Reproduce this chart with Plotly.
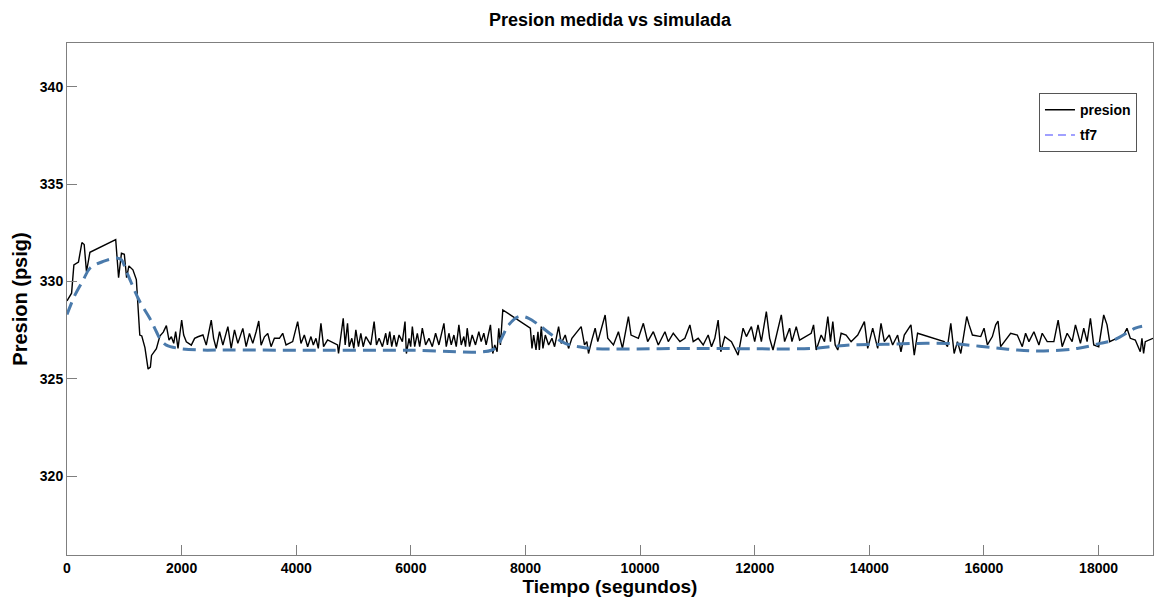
import plotly.graph_objects as go

# ---- data: measured pressure (presion) ----
t_presion = [0, 80, 120, 200, 260, 300, 340, 400, 850, 900, 950, 1000, 1040, 1080, 1150, 1210,
             1270, 1305, 1360, 1415, 1455, 1475, 1560, 1620, 1680, 1734, 1780, 1821, 1862, 1896,
             1937, 2001, 2036, 2082, 2169, 2227, 2285, 2372, 2430, 2517, 2558, 2604, 2662, 2720,
             2807, 2865, 2923, 2981, 3068, 3126, 3184, 3242, 3300, 3346, 3387, 3445, 3503, 3561,
             3619, 3706, 3764, 3822, 3938, 4025, 4083, 4141, 4199, 4257, 4298, 4344, 4385, 4431,
             4477, 4547, 4721, 4738, 4820, 4854, 4895, 4924, 4970, 5005, 5040, 5086, 5127, 5168,
             5214, 5301, 5359, 5400, 5446, 5504, 5562, 5591, 5632, 5666, 5707, 5748, 5794, 5852,
             5898, 5922, 5968, 5997, 6026, 6067, 6113, 6154, 6200, 6258, 6316, 6374, 6432, 6490,
             6577, 6618, 6664, 6705, 6751, 6792, 6838, 6879, 6925, 6954, 6983, 7024, 7070, 7128,
             7186, 7227, 7273, 7314, 7389, 7430, 7464, 7505, 7534, 7563, 7604, 8085, 8114, 8143,
             8184, 8218, 8242, 8276, 8305, 8346, 8404, 8462, 8508, 8578, 8624, 8694, 8752, 8810,
             8972, 9030, 9071, 9100, 9158, 9216, 9262, 9332, 9390, 9436, 9535, 9622, 9692, 9796,
             9842, 9970, 10057, 10132, 10231, 10318, 10434, 10492, 10579, 10695, 10782, 10869,
             10927, 11014, 11101, 11188, 11246, 11304, 11362, 11408, 11478, 11594, 11710, 11797,
             11855, 11942, 12000, 12058, 12116, 12203, 12261, 12319, 12377, 12464, 12522, 12609,
             12650, 12725, 12783, 12986, 13027, 13073, 13160, 13218, 13276, 13322, 13363, 13404,
             13450, 13508, 13595, 13682, 13798, 13914, 13972, 14059, 14146, 14204, 14262, 14349,
             14407, 14494, 14552, 14610, 14726, 14784, 14842, 15306, 15364, 15422, 15480, 15538,
             15596, 15700, 15741, 15799, 15944, 16002, 16060, 16147, 16205, 16246, 16292, 16466,
             16582, 16669, 16727, 16785, 16872, 16959, 17017, 17104, 17220, 17295, 17365, 17452,
             17539, 17597, 17684, 17742, 17800, 17858, 17916, 18003, 18090, 18148, 18194, 18438,
             18496, 18554, 18641, 18728, 18757, 18786, 18815, 18950]
p_presion = [329.0, 329.4, 330.85, 331.0, 332.0, 331.9, 330.5, 331.5, 332.15, 330.2, 331.45, 331.4,
             330.2, 330.8, 330.6, 330.1, 327.25, 327.2, 326.6, 325.5, 325.6, 326.2, 326.55, 327.2,
             327.4, 327.73, 326.99, 327.16, 326.82, 327.42, 326.56, 328.02, 327.25, 326.9, 326.73,
             327.08, 327.16, 327.25, 326.73, 328.02, 327.08, 326.56, 327.42, 326.73, 327.68, 326.56,
             327.51, 326.82, 327.59, 326.65, 327.33, 326.82, 327.42, 327.97, 326.73, 327.16, 327.33,
             326.65, 327.08, 327.08, 327.34, 326.74, 326.91, 327.94, 326.82, 327.25, 326.65, 327.17,
             326.74, 327.08, 326.56, 327.85, 326.65, 327.0, 326.74, 326.3, 328.11, 326.74, 327.85,
             326.65, 327.08, 326.56, 327.51, 326.65, 327.34, 326.65, 327.17, 326.74, 327.94, 326.74,
             327.08, 326.65, 327.34, 326.74, 327.42, 326.65, 327.25, 326.65, 327.25, 326.91, 327.94,
             326.3, 327.08, 326.65, 327.68, 326.65, 327.34, 326.65, 327.6, 326.74, 327.08, 326.65,
             327.34, 326.74, 327.85, 326.65, 327.34, 326.74, 327.25, 326.65, 327.77, 326.74, 327.17,
             326.65, 327.6, 326.65, 327.25, 326.74, 327.42, 326.91, 327.34, 326.74, 327.77, 326.3,
             326.74, 326.39, 327.6, 326.74, 328.54, 327.6, 326.56, 327.25, 326.48, 327.42, 326.48,
             327.68, 326.56, 327.25, 326.74, 327.08, 326.65, 327.68, 326.82, 327.25, 326.56, 327.08,
             327.68, 326.74, 326.91, 326.3, 326.99, 327.6, 326.91, 327.6, 328.28, 327.08, 326.74,
             327.42, 326.56, 328.2, 327.25, 327.08, 327.85, 326.91, 327.42, 326.74, 327.42, 326.91,
             327.34, 326.91, 327.08, 327.77, 326.91, 327.08, 326.74, 327.25, 326.65, 327.08, 328.02,
             326.39, 327.17, 326.91, 326.22, 327.6, 327.17, 327.68, 326.91, 327.77, 326.91, 328.45,
             327.08, 326.48, 327.25, 328.28, 326.91, 327.6, 326.91, 327.68, 326.99, 327.34, 327.77,
             326.48, 327.25, 326.91, 328.2, 326.91, 327.94, 326.74, 326.48, 327.34, 327.25, 326.91,
             327.25, 327.94, 326.56, 327.6, 326.56, 327.85, 326.91, 327.25, 326.74, 327.25, 326.39,
             327.25, 327.77, 326.22, 327.34, 326.91, 326.65, 327.85, 326.3, 326.91, 326.3, 328.2,
             327.77, 327.25, 327.17, 327.6, 326.74, 327.17, 327.77, 327.97, 326.65, 327.34, 327.25,
             326.65, 327.34, 326.91, 327.42, 326.74, 327.34, 326.91, 326.91, 328.02, 326.65, 327.34,
             326.91, 327.77, 326.82, 327.6, 326.91, 328.11, 326.74, 326.65, 328.28, 327.77, 326.91,
             327.25, 327.6, 327.08, 326.99, 326.39, 327.08, 326.3, 326.91, 327.08]

# ---- data: simulated pressure (tf7) ----
t_tf7 = [0, 140, 284, 400, 632, 864, 951, 1038, 1125, 1270, 1444, 1560, 1618, 1734, 1966, 2314,
         2778, 4000, 6000, 7418, 7534, 7708, 7882, 8056, 8230, 8462, 8694, 8926, 9158, 11000,
         13000, 13334, 13682, 14262, 14842, 15364, 15596, 16176, 16582, 17046, 17626, 18032,
         18264, 18641, 18760]
p_tf7 = [328.3, 329.31, 330.08, 330.68, 331.03, 331.2, 331.11, 330.51, 329.91, 328.97, 328.11,
         327.42, 327.08, 326.73, 326.56, 326.48, 326.48, 326.47, 326.47, 326.48, 326.82, 327.77,
         328.2, 328.11, 327.77, 327.25, 326.82, 326.65, 326.56, 326.56, 326.56, 326.65, 326.74,
         326.77, 326.82, 326.82, 326.77, 326.6, 326.48, 326.43, 326.56, 326.82, 326.99, 327.6,
         327.7]

x_ticks = [0, 2000, 4000, 6000, 8000, 10000, 12000, 14000, 16000, 18000]
y_ticks = [320, 325, 330, 335, 340]

FONT = "Arial, Liberation Sans, sans-serif"
DASH_COLOR = "#4a7aab"

fig = go.Figure()
fig.add_trace(go.Scatter(x=t_presion, y=p_presion, mode="lines", name="presion",
                         line=dict(color="black", width=1.4), legendgroup="a"))
fig.add_trace(go.Scatter(x=t_tf7, y=p_tf7, mode="lines", name="tf7", showlegend=False,
                         line=dict(color=DASH_COLOR, width=3, dash="13px,7px"),
                         line_shape="spline"))
# legend sample for tf7 (MATLAB shows it in a light lavender)
fig.add_trace(go.Scatter(x=[None], y=[None], mode="lines", name="tf7", legendgroup="b",
                         line=dict(color="#a0a0ff", width=2, dash="8px,5px")))

axis_common = dict(showline=True, mirror=True, linecolor="#7f7f7f", linewidth=1,
                   ticks="inside", ticklen=10, tickcolor="#7f7f7f", showgrid=False,
                   zeroline=False,
                   tickfont=dict(family=FONT, size=14, color="black", weight="bold"))

fig.update_layout(
    width=1155, height=601,
    margin=dict(l=67, r=2, t=43, b=46),
    paper_bgcolor="white", plot_bgcolor="white",
    title=dict(text="Presion medida vs simulada", x=0.5, xref="paper", y=0.968,
               yref="container", yanchor="middle",
               font=dict(family=FONT, size=18, color="black", weight="bold")),
    xaxis=dict(range=[0, 18950], tickvals=x_ticks, ticktext=[str(v) for v in x_ticks],
               title=dict(text="Tiempo (segundos)", standoff=4,
                          font=dict(family=FONT, size=19, color="black", weight="bold")),
               **axis_common),
    yaxis=dict(range=[315.95, 342.25], tickvals=y_ticks, ticktext=[str(v) for v in y_ticks],
               title=dict(text="Presion (psig)", standoff=6,
                          font=dict(family=FONT, size=20, color="black", weight="bold")),
               **axis_common),
    legend=dict(x=0.895, y=0.902, xanchor="left", yanchor="top",
                bgcolor="white", bordercolor="#555555", borderwidth=1,
                font=dict(family=FONT, size=14, color="black", weight="bold"),
                tracegroupgap=4),
    showlegend=True,
)

fig.write_html("out.html")
